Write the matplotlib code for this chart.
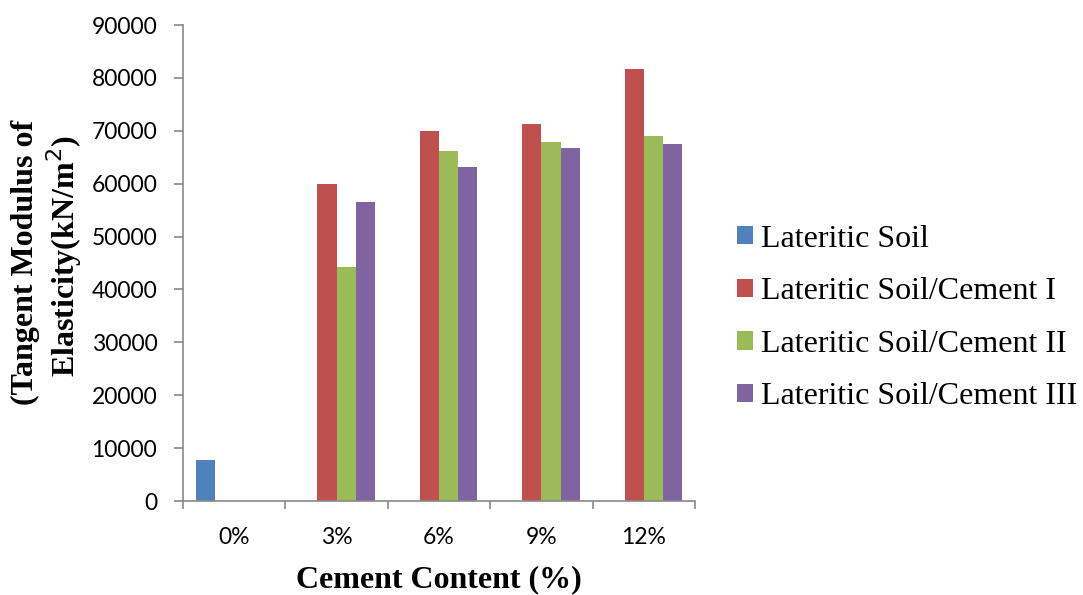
import matplotlib
matplotlib.use("Agg")
import matplotlib.pyplot as plt
import numpy as np
from matplotlib.patches import Patch

categories = ["0%", "3%", "6%", "9%", "12%"]
series_names = [
    "Lateritic Soil",
    "Lateritic Soil/Cement I",
    "Lateritic Soil/Cement II",
    "Lateritic Soil/Cement III",
]
lateritic_soil = [7800, 0, 0, 0, 0]
cement_i = [0, 60000, 70000, 71300, 81600]
cement_ii = [0, 44200, 66200, 67900, 69100]
cement_iii = [0, 56500, 63200, 66800, 67500]
colors = ["#4F81BD", "#C0504D", "#9BBB59", "#8064A2"]
yticks = list(range(0, 90001, 10000))

fig = plt.figure(figsize=(10.83, 5.95), dpi=100)
ax = fig.add_axes([183 / 1083, 94 / 595, 512 / 1083, 476 / 595])

x = np.arange(len(categories))
width = 0.187
all_series = [lateritic_soil, cement_i, cement_ii, cement_iii]
for i, (vals, col) in enumerate(zip(all_series, colors)):
    ax.bar(x + (i - 1.5) * width, vals, width, color=col, zorder=2)

tick_font = {"family": "Lato", "size": 16.5}
ax.set_xlim(-0.5, len(categories) - 0.5)
ax.set_ylim(0, 90000)
ax.set_yticks(yticks)
ax.set_yticklabels([str(v) for v in yticks], fontdict=tick_font)
ax.set_xticks(x)
ax.set_xticklabels(categories, fontdict=tick_font)
ax.tick_params(axis="x", which="major", length=0, pad=19)
ax.set_xticks(np.arange(-0.5, len(categories)), minor=True)
ax.tick_params(axis="x", which="minor", length=6, color="#898989", width=1.2)
ax.tick_params(axis="y", length=6.5, color="#898989", width=1.2, pad=12)

for side in ["top", "right"]:
    ax.spines[side].set_visible(False)
for side in ["left", "bottom"]:
    ax.spines[side].set_color("#898989")
    ax.spines[side].set_linewidth(1.2)

label_font = {"family": "Liberation Serif", "size": 23, "weight": "bold"}
ax.set_xlabel("Cement Content (%)", fontdict=label_font, labelpad=12)
fig.text(25 / 1083, (595 - 262) / 595, "(Tangent Modulus of",
         rotation=90, ha="center", va="center", fontdict=label_font)
fig.text(64 / 1083, (595 - 256) / 595, "Elasticity(kN/m$^{\\mathrm{2}}$)",
         rotation=90, ha="center", va="center", fontdict=label_font)

handles = [Patch(facecolor=c) for c in colors]
fig.legend(handles, series_names, loc="center left",
           bbox_to_anchor=(737 / 1083, (595 - 318) / 595), frameon=False,
           prop={"family": "Liberation Serif", "size": 23},
           handlelength=0.5, handleheight=0.5, handletextpad=0.25,
           labelspacing=0.74, borderpad=0, borderaxespad=0)

fig.savefig("out.png", dpi=100)
